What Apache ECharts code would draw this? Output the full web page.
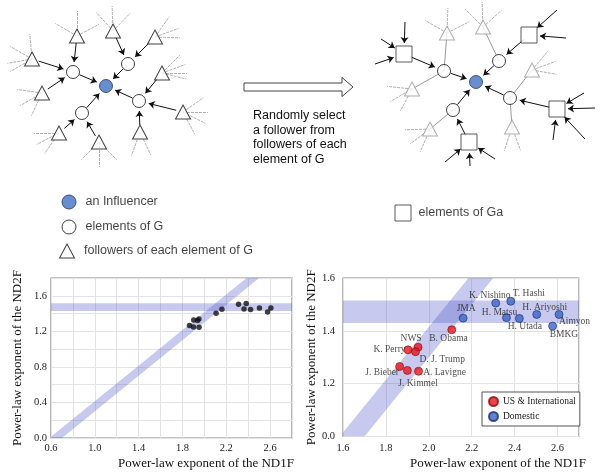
<!DOCTYPE html>
<html><head><meta charset="utf-8">
<script src="https://cdn.jsdelivr.net/npm/echarts@6/dist/echarts.min.js"></script>
<style>html,body{margin:0;padding:0;background:#fff}#c{width:600px;height:474px}</style>
</head><body><div id="c"></div>
<script>
// ================= DATA =================
// Accounts: power-law exponents of ND1F (x) and ND2F (y)
const accountNames = ['B. Obama','NWS','K. Perry','D. J. Trump','J. Bieber','J. Kimmel','A. Lavigne',
  'JMA','K. Nishino','T. Hashi','H. Matsu','H. Utada','H. Ariyoshi','Aimyon','BMKG'];
const accountGroups = ['US & International','US & International','US & International','US & International',
  'US & International','US & International','US & International',
  'Domestic','Domestic','Domestic','Domestic','Domestic','Domestic','Domestic','Domestic'];
const nd1fExponent = [2.107,1.950,1.903,1.938,1.864,1.900,1.952,2.160,2.312,2.382,2.362,2.422,2.503,2.607,2.577];
const nd2fExponent = [1.404,1.338,1.328,1.321,1.265,1.250,1.247,1.448,1.505,1.512,1.450,1.447,1.462,1.462,1.418];
const groupNames = ['US & International','Domestic'];

// reference bands
const diagonalBandOffsets = [0.585, 0.70];   // band between y = x - 0.585 and y = x - 0.70
const horizontalBand = [1.43, 1.515];

// tick labels
const leftXTickLabels = ['0.6','1.0','1.4','1.8','2.2','2.6'];
const leftYTickLabels = ['0.0','0.4','0.8','1.2','1.6'];
const rightXTickLabels = ['1.6','1.8','2.0','2.2','2.4','2.6'];
const rightYTickValues = [1.0, 1.2, 1.4, 1.6];
const rightYTickLabels = ['0.0','1.2','1.4','1.6'];

// texts
const axisTitleX = 'Power-law exponent of the ND1F';
const axisTitleY = 'Power-law exponent of the ND2F';
const processText = 'Randomly select\na follower from\nfollowers of each\nelement of G';
const schemaLegend = [['inf','an Influencer'],['g','elements of G'],['f','followers of each element of G'],['ga','elements of Ga']];

// schematic network (diagram node placement)
const netNodes = {
  a0:[106,86,'inf'], a1:[73,72,'g'], a2:[128,64,'g'], a3:[139,101,'g'], a4:[82,113,'g'],
  t1:[77,36,'f'], t2:[113,31,'f'], t3:[155,37,'f'], t4:[32,59,'f'], t5:[42,93,'f'],
  t6:[162,73,'f'], t7:[183,112,'f'], t8:[140,132,'f'], t9:[59,133,'f'], t10:[99,142,'f'],
  b0:[476,82,'inf'], b1:[444,71,'g'], b2:[499,61,'g'], b3:[510,98,'g'], b4:[453,110,'g'],
  s1:[404,54,'ga'], s2:[529,35,'ga'], s3:[557,109,'ga'], s4:[469,142,'ga'],
  u1:[447,33,'fg'], u2:[483,27,'fg'], u3:[532,70,'fg'], u4:[412,89,'fg'], u5:[430,129,'fg'], u6:[512,127,'fg']
};
const arrowEdges = [['t1','a1'],['t4','a1'],['t5','a1'],['a1','a0'],['t2','a2'],['t3','a2'],['a2','a0'],
  ['t6','a3'],['t7','a3'],['t8','a3'],['a3','a0'],['t9','a4'],['t10','a4'],['a4','a0'],
  ['b1','b0'],['b2','b0'],['b3','b0'],['b4','b0'],['s1','b1'],['s2','b2'],['s3','b3'],['s4','b4']];
const grayEdges = [['u1','b1'],['u4','b1'],['u2','b2'],['u3','b3'],['u6','b3'],['u5','b4']];
const squareInputs = { s1:[[381,39],[375,64],[405,22]], s2:[[557,10],[566,38]],
  s3:[[584,93],[595,108],[585,139],[553,140]], s4:[[445,162],[470,166],[495,159]] };
const fanAngles = { t1:[-150,-90,-28], t2:[-132,-92,-46], t3:[-55,-20,2], t4:[-150,-95,170,150],
  t5:[-172,150,115], t6:[-45,-20,0,14], t7:[-35,0,27,62], t8:[65,110], t9:[180,153,125], t10:[135,90,45],
  u1:[-150,-88,-27], u2:[-135,-92,-42], u3:[-50,-20,10], u4:[-174,150,118], u5:[178,143,113], u6:[70,108] };
const schemaLegendPos = [[69,202],[69,227],[67,251],[403,213]];

// ================= STYLES =================
const SERIF = 'Liberation Serif, Times New Roman, serif';
const SANS = 'Liberation Sans, Arial, sans-serif';
const bandColor = 'rgba(70,80,200,0.30)';
const nodeStyle = {
  inf: {symbol:'circle', size:13, color:'#4472c4', border:'#1f3864'},
  g:   {symbol:'circle', size:13, color:'#ffffff', border:'#111'},
  f:   {symbol:'triangle', size:[15,14], color:'#ffffff', border:'#111'},
  fg:  {symbol:'triangle', size:[15,14], color:'#ffffff', border:'#9a9a9a'},
  ga:  {symbol:'rect', size:16, color:'#ffffff', border:'#333'}
};
const labelOffsets = {
  'K. Nishino':[-6,-8], 'T. Hashi':[18,-7.5], 'JMA':[3,-9.5], 'H. Matsu':[-7,-5.5], 'H. Utada':[5.5,8],
  'H. Ariyoshi':[8,-7.3], 'Aimyon':[15.5,7.4], 'BMKG':[11.3,8.3], 'B. Obama':[-3.3,8.3],
  'NWS':[-7,-8.4], 'K. Perry':[-18.5,0], 'D. J. Trump':[26.7,7.3], 'J. Bieber':[-17.5,6],
  'J. Kimmel':[10.7,13], 'A. Lavigne':[26,1]
};

// ================= BUILD =================
function trim(p, q, r1, r2) {
  const dx = q[0]-p[0], dy = q[1]-p[1], L = Math.hypot(dx, dy);
  return [[p[0]+dx*r1/L, p[1]+dy*r1/L], [q[0]-dx*r2/L, q[1]-dy*r2/L]];
}
const arrowLines = [];
arrowEdges.forEach(([a,b]) => {
  arrowLines.push({coords: trim(netNodes[a], netNodes[b], 7, 10)});
});
Object.keys(squareInputs).forEach(k => {
  squareInputs[k].forEach(p => arrowLines.push({coords: trim(p, netNodes[k], 0, 11)}));
});
const grayLines = grayEdges.map(([a,b]) => ({coords: trim(netNodes[a], netNodes[b], 0, 0)}));
const fanLines = [];
Object.keys(fanAngles).forEach(k => {
  const n = netNodes[k];
  fanAngles[k].forEach(deg => {
    const r = deg*Math.PI/180, len = 25;
    fanLines.push({coords:[[n[0], n[1]], [n[0]+len*Math.cos(r), n[1]+len*Math.sin(r)]]});
  });
});
const nodeData = Object.keys(netNodes).map(k => {
  const n = netNodes[k], s = nodeStyle[n[2]];
  return {value:[n[0], n[1]], symbol:s.symbol, symbolSize:s.size,
    itemStyle:{color:s.color, borderColor:s.border, borderWidth:1}};
});
const legendNodeData = schemaLegend.map(([kind, text], i) => {
  const s = nodeStyle[kind];
  return {value:schemaLegendPos[i], symbol:s.symbol, symbolSize: kind==='inf'||kind==='g' ? 14 : s.size,
    itemStyle:{color:s.color, borderColor:s.border, borderWidth:1},
    label:{show:true, position:'right', distance: kind==='ga' ? 7 : 9, formatter:text,
      fontFamily:SANS, fontSize:12.5, color:'#111'}};
});

const allPoints = nd1fExponent.map((x,i) => [x, nd2fExponent[i]]);
function groupData(g) {
  const out = [];
  accountNames.forEach((name, i) => {
    if (accountGroups[i] === g) out.push({name, value:[nd1fExponent[i], nd2fExponent[i]]});
  });
  return out;
}

function diagBandSeries(xi, yi, yMin, yMax) {
  return {type:'custom', xAxisIndex:xi, yAxisIndex:yi, clip:true, silent:true, z:1,
    data:[[0,0]],
    renderItem:(params, api) => {
      const [o1, o2] = diagonalBandOffsets;
      const pts = [[yMin+o1,yMin],[yMin+o2,yMin],[yMax+o2,yMax],[yMax+o1,yMax]].map(p => api.coord(p));
      return {type:'polygon', shape:{points:pts}, style:{fill:bandColor}};
    }};
}
function horizBandSeries(xi, yi, xMin, xMax) {
  return {type:'custom', xAxisIndex:xi, yAxisIndex:yi, clip:true, silent:true, z:1,
    data:[[0,0]],
    renderItem:(params, api) => {
      const pts = [[xMin,horizontalBand[0]],[xMax,horizontalBand[0]],[xMax,horizontalBand[1]],[xMin,horizontalBand[1]]].map(p => api.coord(p));
      return {type:'polygon', shape:{points:pts}, style:{fill:bandColor}};
    }};
}

const tickText = {fontFamily:SERIF, fontSize:10.5, color:'#222'};
const splitLine = {show:true, lineStyle:{color:'#e3e3e3', width:1}};
const chart = echarts.init(document.getElementById('c'), null, {renderer:'canvas'});
chart.setOption({
  backgroundColor:'#fff',
  animation:false,
  grid:[
    {left:0, top:0, right:0, bottom:0, outerBoundsMode:'none'},
    {left:51, top:278, width:241, height:160, show:true, borderColor:'#888', borderWidth:1.2, backgroundColor:'transparent', outerBoundsMode:'none'},
    {left:343, top:278, width:236, height:158.5, show:true, borderColor:'#888', borderWidth:1.2, backgroundColor:'transparent', outerBoundsMode:'none'}
  ],
  xAxis:[
    {gridIndex:0, type:'value', min:0, max:600, show:false},
    {gridIndex:1, type:'value', min:0.6, max:2.8, interval:0.2,
      axisLine:{show:false}, axisTick:{show:false}, splitLine,
      axisLabel:{...tickText, margin:5, formatter:v => leftXTickLabels.includes(v.toFixed(1)) ? v.toFixed(1) : ''}},
    {gridIndex:2, type:'value', min:1.6, max:2.7, interval:0.2,
      axisLine:{show:false}, axisTick:{show:false}, splitLine,
      axisLabel:{...tickText, margin:6, showMaxLabel:false, formatter:v => rightXTickLabels.includes(v.toFixed(1)) ? v.toFixed(1) : ''}}
  ],
  yAxis:[
    {gridIndex:0, type:'value', min:0, max:474, inverse:true, show:false},
    {gridIndex:1, type:'value', min:0, max:1.8, interval:0.2,
      axisLine:{show:false}, axisTick:{show:false}, splitLine,
      axisLabel:{...tickText, margin:4, formatter:v => leftYTickLabels.includes(v.toFixed(1)) ? v.toFixed(1) : ''},
      name:axisTitleY, nameLocation:'middle', nameGap:27,
      nameTextStyle:{fontFamily:SERIF, fontSize:13, color:'#111'}},
    {gridIndex:2, type:'value', min:1.0, max:1.6, interval:0.2,
      axisLine:{show:false}, axisTick:{show:false}, splitLine,
      axisLabel:{...tickText, margin:8, formatter:v => {
        const i = rightYTickValues.findIndex(t => Math.abs(t - v) < 1e-6);
        return i >= 0 ? rightYTickLabels[i] : '';}},
      name:axisTitleY, nameLocation:'middle', nameGap:14,
      nameTextStyle:{fontFamily:SERIF, fontSize:13, color:'#111'}}
  ],
  legend:{data:groupNames, left:482, top:392, orient:'vertical', itemWidth:9, itemHeight:9, itemGap:4,
    padding:[4,4,4,6], borderColor:'#555', borderWidth:1, backgroundColor:'#fff', icon:'circle',
    selectedMode:false, textStyle:{fontFamily:SERIF, fontSize:9.5, color:'#222'}},
  graphic:[
    {type:'polygon', shape:{points:[[244,83],[342,83],[342,77.5],[353,87],[342,96.5],[342,91],[244,91]]},
      style:{fill:'#fff', stroke:'#444', lineWidth:1}},
    {type:'text', left:253, top:108, style:{text:processText, font:'12.5px ' + SANS, fill:'#111', lineHeight:14.7}},
    {type:'text', x:206, y:464, style:{text:axisTitleX, font:'13px ' + SERIF, fill:'#111', textAlign:'center', textVerticalAlign:'middle'}},
    {type:'text', x:498, y:464, style:{text:axisTitleX, font:'13px ' + SERIF, fill:'#111', textAlign:'center', textVerticalAlign:'middle'}}
  ],
  series:[
    {type:'lines', coordinateSystem:'cartesian2d', xAxisIndex:0, yAxisIndex:0, z:2, silent:true,
      data:fanLines, symbol:['none','none'], lineStyle:{color:'#a8a8a8', width:0.9, type:[3,1], opacity:1}},
    {type:'lines', coordinateSystem:'cartesian2d', xAxisIndex:0, yAxisIndex:0, z:2, silent:true,
      data:grayLines, symbol:['none','none'], lineStyle:{color:'#9a9a9a', width:1, opacity:1}},
    {type:'lines', coordinateSystem:'cartesian2d', xAxisIndex:0, yAxisIndex:0, z:3, silent:true,
      data:arrowLines, symbol:['none','arrow'], symbolSize:6, lineStyle:{color:'#111', width:1, opacity:1}},
    {type:'scatter', xAxisIndex:0, yAxisIndex:0, z:4, silent:true, data:nodeData},
    {type:'scatter', xAxisIndex:0, yAxisIndex:0, z:4, silent:true, data:legendNodeData},

    diagBandSeries(1, 1, 0, 1.8),
    horizBandSeries(1, 1, 0.6, 2.8),
    {type:'scatter', xAxisIndex:1, yAxisIndex:1, z:5, data:allPoints, symbolSize:5.5,
      itemStyle:{color:'#111'}},

    diagBandSeries(2, 2, 1.0, 1.6),
    horizBandSeries(2, 2, 1.6, 2.7),
    ...groupNames.map((g, gi) => ({
      name:g, type:'scatter', xAxisIndex:2, yAxisIndex:2, z:5, data:groupData(g), symbolSize:8,
      itemStyle: gi === 0 ? {color:'#e8141c', borderColor:'#8a0a0a', borderWidth:0.8}
                          : {color:'#3a64c4', borderColor:'#1a2d78', borderWidth:0.8},
      label:{show:true, position:'inside', formatter:'{b}', fontFamily:SERIF, fontSize:9.5, color:'#222'},
      labelLayout:(p) => {
        const o = labelOffsets[p.text] || [0,-10];
        return {dx:o[0], dy:o[1], hideOverlap:false};
      }
    }))
  ]
});
</script></body></html>
